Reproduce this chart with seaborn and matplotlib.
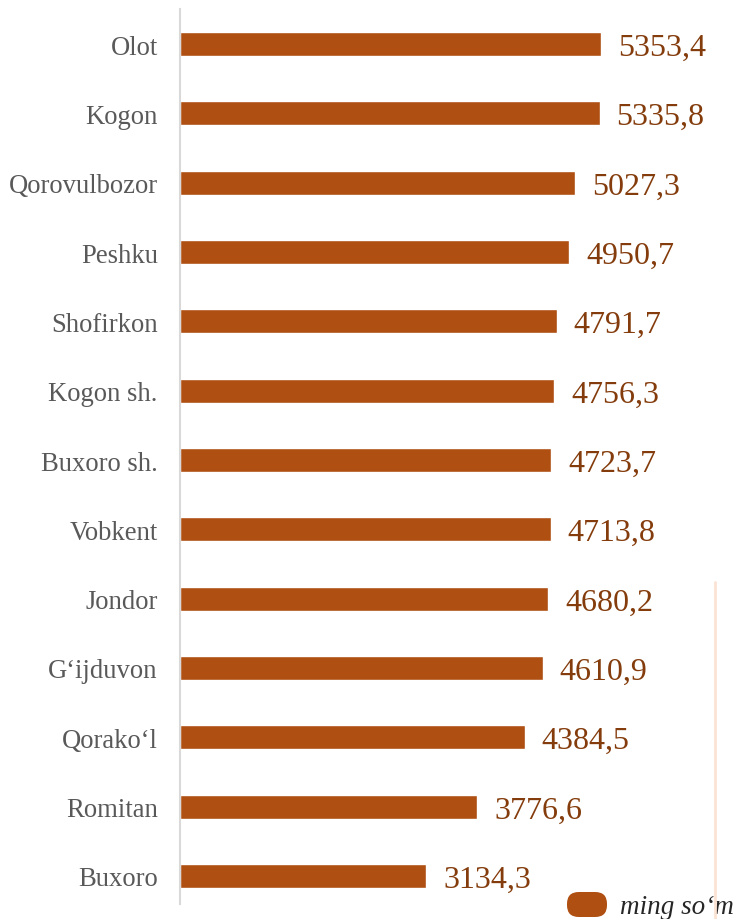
import matplotlib
matplotlib.use("Agg")
import matplotlib.pyplot as plt
from matplotlib.patches import FancyBboxPatch
from matplotlib.lines import Line2D
import seaborn as sns

# ── Data ──────────────────────────────────────────────────────────────────────
regions = ["Olot", "Kogon", "Qorovulbozor", "Peshku", "Shofirkon", "Kogon sh.",
           "Buxoro sh.", "Vobkent", "Jondor", "G‘ijduvon", "Qorako‘l",
           "Romitan", "Buxoro"]
values = [5353.4, 5335.8, 5027.3, 4950.7, 4791.7, 4756.3, 4723.7, 4713.8,
          4680.2, 4610.9, 4384.5, 3776.6, 3134.3]
legend_label = "ming so‘m"

BAR_COLOR = "#AF4F12"
VALUE_COLOR = "#843C0C"
LABEL_COLOR = "#595959"

sns.set_theme(style="white")
plt.rcParams["font.family"] = ["Liberation Serif", "DejaVu Serif"]

W, H = 739, 920
fig = plt.figure(figsize=(W / 100, H / 100), dpi=100)
ax = fig.add_axes([180 / W, 15 / H, (W - 180) / W, 895 / H])

sns.barplot(x=values, y=regions, orient="h", color=BAR_COLOR, saturation=1,
            width=0.35, ax=ax)

ax.set_xlim(0, 7108)
ax.set_ylim(12.404, -0.505)
ax.set_xlabel("")
ax.set_ylabel("")
ax.set_xticks([])
for s in ["top", "right", "bottom"]:
    ax.spines[s].set_visible(False)
ax.spines["left"].set_color("#D9D9D9")
ax.spines["left"].set_linewidth(1.5)
ax.tick_params(axis="y", length=0, pad=16, labelsize=19.2, labelcolor=LABEL_COLOR)

for i, v in enumerate(values):
    ax.text(v + 216, i + 0.05, f"{v:.1f}".replace(".", ","), va="center", ha="left",
            fontsize=23, color=VALUE_COLOR)

# legend (bottom right)
patch = FancyBboxPatch((567 / W, 2 / H), 40 / W, 25 / H,
                       boxstyle="round,pad=0,rounding_size=0.016",
                       transform=fig.transFigure, facecolor=BAR_COLOR,
                       edgecolor="none", mutation_aspect=W / H)
fig.patches.append(patch)
fig.text(620 / W, 6 / H, legend_label, fontsize=19.5, style="italic",
         color="#262626", ha="left", va="baseline")

# thin stray vertical line
fig.lines.append(Line2D([715 / W, 715 / W], [0, 337 / H], transform=fig.transFigure,
                        color="#FBE3D4", linewidth=2, zorder=5))

fig.savefig("out.png", dpi=100)
